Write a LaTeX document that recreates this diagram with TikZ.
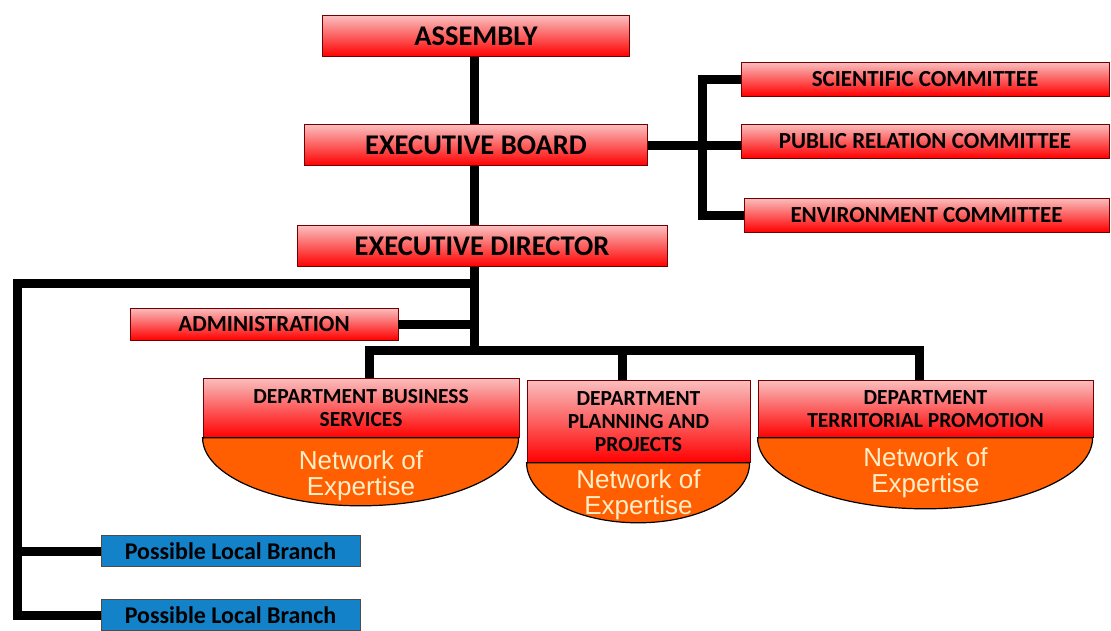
\documentclass[tikz,border=0pt]{standalone}
\usepackage{fontspec}
\setmainfont{Carlito}
\newfontfamily\arialfont{Liberation Sans}
\usetikzlibrary{positioning}
\definecolor{boxred}{RGB}{255,0,0}
\definecolor{boxpink}{RGB}{250,190,190}
\definecolor{bowlorange}{RGB}{255,95,0}
\definecolor{branchblue}{RGB}{20,130,200}
\definecolor{bowltext}{RGB}{255,238,200}
\tikzset{
	redbox/.style={draw=red!45!black, line width=0.8pt, top color=boxpink, bottom color=boxred, inner sep=0pt},
	bigbox/.style={redbox, minimum height=41pt, font=\fontsize{28.5}{30}\selectfont\bfseries},
	combox/.style={redbox, minimum height=34pt, font=\fontsize{23}{25}\selectfont\bfseries},
	dept/.style={redbox, anchor=north, align=center, font=\fontsize{21.5}{23}\selectfont\bfseries},
	bowl/.style={draw=black, line width=1.2pt, fill=bowlorange},
	bowlnote/.style={anchor=center, align=center, text=bowltext, font=\arialfont\fontsize{26}{26}\selectfont},
	branch/.style={draw=black!70, line width=0.8pt, fill=branchblue, minimum width=259pt, minimum height=31pt, font=\fontsize{24}{25}\selectfont\bfseries},
	conn/.style={line width=9pt, draw=black}
}
\begin{document}
\begin{tikzpicture}[x=1pt,y=1pt,on grid]
	\useasboundingbox (0,0) rectangle (1111,-630);
	\node[bigbox, minimum width=307pt] (assembly) at (476,-36) {ASSEMBLY};
	\node[bigbox, minimum width=343pt] (board) [below=109pt of assembly] {EXECUTIVE BOARD};
	\node[bigbox, minimum width=370pt] (director) [below=101pt of board, xshift=6pt] {EXECUTIVE DIRECTOR};
	\node[combox, minimum width=368pt] (sci) at (925,-79) {SCIENTIFIC COMMITTEE};
	\node[combox, minimum width=368pt] (pub) [below=62pt of sci] {PUBLIC RELATION COMMITTEE};
	\node[combox, minimum width=365pt] (env) [below=74pt of pub, xshift=1.5pt] {ENVIRONMENT COMMITTEE};
	\node[combox, minimum width=268pt, minimum height=32pt] (admin) at (264,-324) {ADMINISTRATION};
	\node[dept, minimum width=316pt, minimum height=59pt] (d1) at (361,-378) {DEPARTMENT BUSINESS\\SERVICES};
	\node[dept, minimum width=223pt, minimum height=82pt] (d2) at (638.5,-380) {DEPARTMENT\\PLANNING AND\\PROJECTS};
	\node[dept, minimum width=335pt, minimum height=57pt] (d3) at (925.5,-380) {DEPARTMENT\\TERRITORIAL PROMOTION};
	\filldraw[bowl] (d1.south west) arc[start angle=180, end angle=360, x radius=158pt, y radius=68pt] -- cycle;
	\filldraw[bowl] (d2.south west) arc[start angle=180, end angle=360, x radius=111.5pt, y radius=60pt] -- cycle;
	\filldraw[bowl] (d3.south west) arc[start angle=180, end angle=360, x radius=167.5pt, y radius=71pt] -- cycle;
	\node[bowlnote] (n1) at ([yshift=-38pt]d1.south) {Network of\\Expertise};
	\node[bowlnote] (n2) at ([yshift=-32pt]d2.south) {Network of\\Expertise};
	\node[bowlnote] (n3) at ([yshift=-34.5pt]d3.south) {Network of\\Expertise};
	\node[branch] (branch1) at (230.5,-551) {Possible Local Branch};
	\node[branch] (branch2) at (230.5,-615) {Possible Local Branch};
	\coordinate (split) at (702,-145);
	\coordinate (hub) at (474,-283);
	\coordinate (dbar) at (474,-350);
	\coordinate (lbar) at (17,-283);
	\draw[conn] (assembly.south -| hub) -- (board.north -| hub);
	\draw[conn] (board.south -| hub) -- (director.north -| hub);
	\draw[conn] (board.east) -- (pub.west |- board.east);
	\draw[conn] (sci.west) -| (split) |- (env.west);
	\draw[conn] (director.south -| hub) -- (dbar);
	\draw[conn] (hub) -- (lbar) |- (branch2.west);
	\draw[conn] (lbar |- branch1.west) -- (branch1.west);
	\draw[conn] (admin.east) -- (admin.east -| hub);
	\draw[conn] ([xshift=8pt]d1.north) |- (dbar) -| ([xshift=-6pt]d3.north);
	\draw[conn] ([xshift=-16pt]d2.north) -- ([xshift=-16pt]d2.north |- dbar);
\end{tikzpicture}
\end{document}
